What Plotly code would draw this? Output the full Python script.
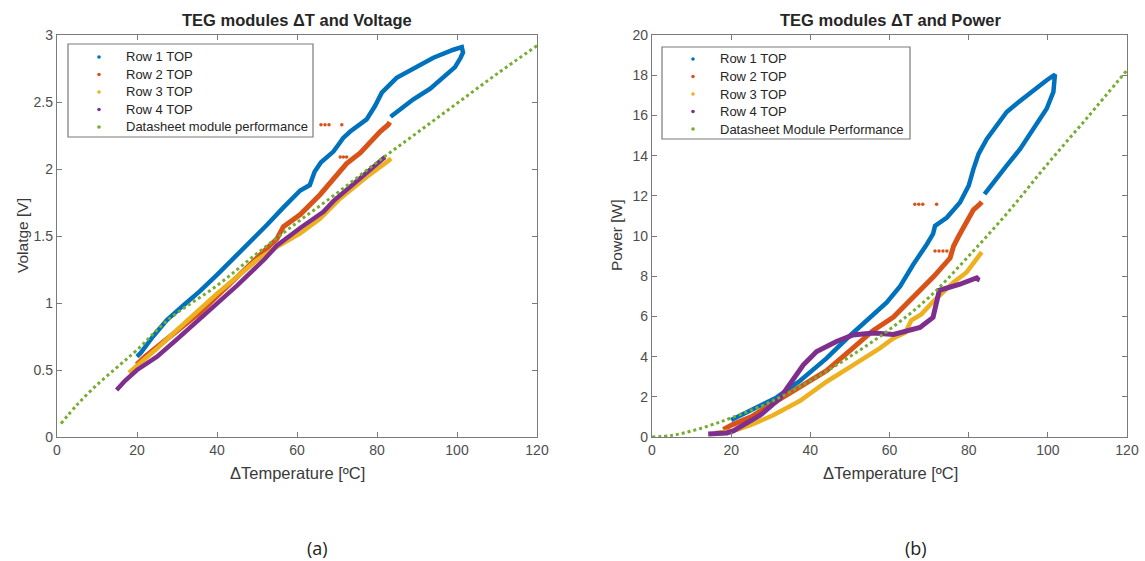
import plotly.graph_objects as go

# ---------------- data: voltage vs ΔT ----------------
v_row1_t = [20.0, 21.0, 24.0, 27.4, 31.5, 35.8, 40.0, 44.1, 48.0, 52.4, 56.5, 60.8, 63.2, 64.4, 66.0,
            69.1, 70.8, 71.5, 73.3, 77.4, 79.5, 81.2, 84.9, 89.1, 94.1, 99.1, 101.2, 101.5, 100.9,
            99.5, 96.6, 93.3, 89.1, 85.8, 83.4]
v_row1_v = [0.60, 0.63, 0.75, 0.87, 0.98, 1.09, 1.21, 1.33, 1.45, 1.58, 1.71, 1.84, 1.88, 1.98, 2.05,
            2.13, 2.20, 2.23, 2.28, 2.37, 2.47, 2.57, 2.68, 2.75, 2.83, 2.89, 2.91, 2.87, 2.83,
            2.76, 2.68, 2.60, 2.52, 2.45, 2.39]

v_row2_t = [19.9, 22.0, 27.4, 31.5, 35.8, 40.0, 44.1, 48.0, 52.4, 55.0, 56.6, 60.8, 65.8, 69.1,
            72.4, 75.8, 78.3, 80.8, 82.8, 83.2]
v_row2_v = [0.54, 0.60, 0.73, 0.83, 0.93, 1.05, 1.17, 1.28, 1.40, 1.48, 1.57, 1.66, 1.81, 1.93,
            2.04, 2.12, 2.20, 2.28, 2.33, 2.35]
v_row2_out_t = [66.0, 67.0, 68.0, 71.2, 70.8, 71.6, 72.4]
v_row2_out_v = [2.33, 2.33, 2.33, 2.33, 2.09, 2.09, 2.09]

v_row3_t = [18.0, 25.0, 30.0, 40.0, 50.0, 55.0, 60.8, 65.8, 70.8, 77.4, 82.8, 83.5]
v_row3_v = [0.48, 0.66, 0.80, 1.07, 1.32, 1.42, 1.52, 1.63, 1.78, 1.94, 2.06, 2.08]

v_row4_t = [14.9, 17.0, 20.0, 25.0, 30.0, 35.0, 40.0, 45.0, 52.0, 55.0, 60.8, 66.6, 69.1, 73.3,
            77.4, 82.0]
v_row4_v = [0.35, 0.42, 0.50, 0.60, 0.73, 0.86, 0.99, 1.13, 1.33, 1.43, 1.56, 1.68, 1.76, 1.87,
            1.98, 2.09]

v_sheet_t = [1, 5, 10, 15, 20, 28, 40, 50, 60, 70, 80, 90, 100, 110, 120]
v_sheet_v = [0.10, 0.24, 0.39, 0.52, 0.65, 0.88, 1.13, 1.37, 1.60, 1.82, 2.05, 2.27, 2.49, 2.71, 2.92]

# ---------------- data: power vs ΔT ----------------
p_row1_t = [20.0, 24.8, 31.5, 37.4, 44.0, 49.5, 54.3, 59.3, 62.7, 66.0, 69.4, 71.0, 71.5, 74.5,
            77.8, 80.0, 81.2, 82.5, 84.6, 86.7, 89.6, 92.1, 94.7, 99.7, 101.8, 101.4, 99.7, 96.3,
            93.0, 89.6, 87.0, 84.0]
p_row1_p = [0.85, 1.30, 1.97, 2.80, 3.90, 4.95, 5.80, 6.70, 7.50, 8.58, 9.58, 10.10, 10.50, 10.92,
            11.67, 12.50, 13.33, 14.08, 14.83, 15.42, 16.17, 16.58, 17.00, 17.75, 18.03, 17.17,
            16.33, 15.33, 14.33, 13.50, 12.83, 12.08]

p_row2_t = [18.0, 20.5, 25.0, 29.0, 33.0, 37.4, 44.1, 50.0, 55.9, 61.0, 66.0, 71.1, 75.3, 76.2,
            77.5, 79.5, 81.2, 82.9, 83.3]
p_row2_p = [0.38, 0.63, 1.00, 1.47, 1.95, 2.47, 3.30, 4.30, 5.30, 5.97, 6.97, 7.97, 8.90, 9.50,
            10.00, 10.75, 11.30, 11.60, 11.70]
p_row2_out_t = [66.4, 67.4, 68.4, 71.9, 71.5, 72.5, 73.5, 74.5]
p_row2_out_p = [11.58, 11.58, 11.58, 11.58, 9.25, 9.25, 9.25, 9.25]

p_row3_t = [16.0, 20.5, 25.0, 30.6, 37.4, 44.1, 50.8, 57.6, 61.0, 64.0, 65.5, 68.0, 71.1, 76.2,
            79.5, 83.3]
p_row3_p = [0.20, 0.30, 0.60, 1.08, 1.80, 2.75, 3.58, 4.42, 4.92, 5.20, 5.80, 6.10, 6.75, 7.70,
            8.20, 9.20]

p_row4_t = [14.2, 18.9, 20.5, 22.3, 27.3, 32.3, 34.8, 36.5, 38.2, 41.6, 46.6, 50.8, 55.9, 61.0,
            64.4, 67.7, 71.0, 72.6, 77.8, 80.5, 82.4, 82.0]
p_row4_p = [0.15, 0.20, 0.30, 0.50, 1.08, 1.92, 2.58, 3.10, 3.58, 4.25, 4.75, 5.08, 5.17, 5.10,
            5.25, 5.45, 5.95, 7.30, 7.60, 7.80, 7.95, 7.75]

p_sheet_t = [0, 5, 10, 15, 20, 30, 40, 50, 60, 70, 80, 90, 100, 110, 120]
p_sheet_p = [0.0, 0.08, 0.30, 0.60, 0.95, 1.75, 2.80, 4.00, 5.35, 6.95, 9.00, 11.20, 13.60, 15.90, 18.25]

row_names = ["Row 1 TOP", "Row 2 TOP", "Row 3 TOP", "Row 4 TOP"]
sheet_names = ["Datasheet module performance", "Datasheet Module Performance"]
colors = ["#0072BD", "#D95319", "#EDB120", "#7E2F8E", "#77AC30"]

FONT = "Liberation Sans, Arial, sans-serif"
AXIS_GRAY = "#7a7a7a"
TICK_GRAY = "#4d4d4d"
W, H = 1145, 561
TOP, BOT = 35, 437

fig = go.Figure()


def band(x, y, color, xa, ya, width=4.5):
    fig.add_trace(go.Scatter(x=x, y=y, mode="lines", xaxis=xa, yaxis=ya, showlegend=False,
                             line=dict(color=color, width=width), hoverinfo="x+y"))


def dots(x, y, color, xa, ya):
    fig.add_trace(go.Scatter(x=x, y=y, mode="markers", xaxis=xa, yaxis=ya, showlegend=False,
                             marker=dict(color=color, size=3.5), hoverinfo="x+y"))


def sheet(x, y, xa, ya):
    fig.add_trace(go.Scatter(x=x, y=y, mode="lines", xaxis=xa, yaxis=ya, showlegend=False,
                             line=dict(color=colors[4], width=3, dash="3px,3px", shape="spline"),
                             hoverinfo="x+y"))


# left panel: voltage
band(v_row1_t, v_row1_v, colors[0], "x", "y")
band(v_row2_t, v_row2_v, colors[1], "x", "y", 5)
dots(v_row2_out_t, v_row2_out_v, colors[1], "x", "y")
band(v_row3_t, v_row3_v, colors[2], "x", "y")
band(v_row4_t, v_row4_v, colors[3], "x", "y")
sheet(v_sheet_t, v_sheet_v, "x", "y")

# right panel: power
band(p_row1_t, p_row1_p, colors[0], "x2", "y2")
band(p_row2_t, p_row2_p, colors[1], "x2", "y2", 5)
dots(p_row2_out_t, p_row2_out_p, colors[1], "x2", "y2")
band(p_row3_t, p_row3_p, colors[2], "x2", "y2")
band(p_row4_t, p_row4_p, colors[3], "x2", "y2", 5)
sheet(p_sheet_t, p_sheet_p, "x2", "y2")


def px(x):
    return x / W


def py(y):
    return (BOT - y) / (BOT - TOP)


ann = []
shapes = []

# MATLAB-style legend boxes: (box left, box top, box right, box bottom, marker x, text x, first row y)
legend_boxes = [
    (68, 44, 313, 137, 99, 124, 57, sheet_names[0]),
    (662, 47, 910, 139, 693, 718, 59, sheet_names[1]),
]
ROW_STEP = 17.5
for bx0, by0, bx1, by1, mx, tx, ry, sname in legend_boxes:
    shapes.append(dict(type="rect", xref="paper", yref="paper", x0=px(bx0), x1=px(bx1),
                       y0=py(by1), y1=py(by0), line=dict(color=AXIS_GRAY, width=1.2),
                       fillcolor="white", layer="above"))
    for i, (name, c) in enumerate(zip(row_names + [sname], colors)):
        yy = ry + i * ROW_STEP
        shapes.append(dict(type="circle", xref="paper", yref="paper", x0=px(mx - 1.8),
                           x1=px(mx + 1.8), y0=py(yy + 1.8), y1=py(yy - 1.8),
                           fillcolor=c, line=dict(width=0), layer="above"))
        ann.append(dict(text=name, x=px(tx), y=py(yy), xref="paper", yref="paper",
                        showarrow=False, xanchor="left", yanchor="middle",
                        font=dict(family=FONT, size=13, color="#262626")))

for text, x, y, size, bold in [
    ("TEG modules ΔT and Voltage", 297, 20, 16.5, True),
    ("TEG modules ΔT and Power", 890, 20, 16.5, True),
    ("ΔTemperature [ºC]", 297, 473, 16.5, False),
    ("ΔTemperature [ºC]", 890, 473, 16.5, False),
]:
    ann.append(dict(text=f"<b>{text}</b>" if bold else text, x=px(x), y=py(y), xref="paper",
                    yref="paper", showarrow=False, xanchor="center", yanchor="middle",
                    font=dict(family=FONT, size=size, color="#262626" if bold else "#3a3a3a")))
for text, x in [("Volatge [V]", 22), ("Power [W]", 616)]:
    ann.append(dict(text=text, x=px(x), y=py(236), xref="paper", yref="paper", showarrow=False,
                    textangle=-90, xanchor="center", yanchor="middle",
                    font=dict(family=FONT, size=15.5, color="#3a3a3a")))
for text, x in [("(a)", 317), ("(b)", 916)]:
    ann.append(dict(text=text, x=px(x), y=py(548), xref="paper", yref="paper", showarrow=False,
                    xanchor="center", yanchor="middle",
                    font=dict(family="Open Sans, sans-serif", size=18, color="#222222")))

axis_common = dict(
    showgrid=False, zeroline=False, showline=True, linecolor=AXIS_GRAY, linewidth=1.3,
    mirror="ticks", ticks="inside", ticklen=5, tickwidth=1.2, tickcolor=AXIS_GRAY,
    tickfont=dict(family=FONT, size=14, color=TICK_GRAY), automargin=False,
)

fig.update_layout(
    width=W, height=H,
    margin=dict(l=0, r=0, t=TOP, b=H - BOT, autoexpand=False),
    paper_bgcolor="white", plot_bgcolor="white",
    xaxis=dict(domain=[px(57), px(537)], range=[0, 120], tickvals=[0, 20, 40, 60, 80, 100, 120],
               anchor="y", **axis_common),
    yaxis=dict(domain=[0, 1], range=[0, 3], tickvals=[0, 0.5, 1, 1.5, 2, 2.5, 3],
               anchor="x", **axis_common),
    xaxis2=dict(domain=[px(652), px(1127)], range=[0, 120], tickvals=[0, 20, 40, 60, 80, 100, 120],
                anchor="y2", **axis_common),
    yaxis2=dict(domain=[0, 1], range=[0, 20], tickvals=list(range(0, 21, 2)),
                anchor="x2", **axis_common),
    shapes=shapes,
    annotations=ann,
    showlegend=False,
)

fig.write_html("out.html")
